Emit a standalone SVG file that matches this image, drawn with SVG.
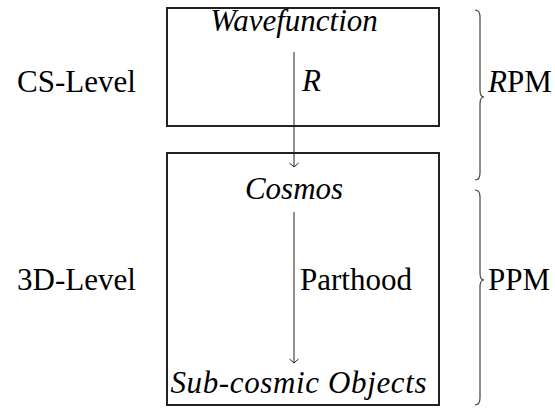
<svg xmlns="http://www.w3.org/2000/svg" width="555" height="410" viewBox="0 0 555 410">
<defs>
<style>
text{font-family:"Liberation Serif","DejaVu Serif","Noto Serif",serif;font-size:31px;fill:#000}
.it{font-style:italic}
.box{fill:none;stroke:#222;stroke-width:2}
.ln{fill:none;stroke:#222;stroke-width:1}
.br{fill:none;stroke:#444;stroke-width:1.2}
</style>
</defs>
<g id="connectors">
<line class="ln" x1="294" y1="52" x2="294" y2="167"/>
<path class="ln" d="M289.5 163 L294 167 L298.5 163"/>
<line class="ln" x1="294" y1="212" x2="294" y2="363"/>
<path class="ln" d="M289.5 359 L294 363 L298.5 359"/>
<text x="302" y="91" class="it">R</text>
<text x="300" y="290">Parthood</text>
</g>
<g id="wavefunction-box">
<rect class="box" x="167" y="8" width="272" height="118"/>
<text x="294" y="31" class="it" text-anchor="middle">Wavefunction</text>
</g>
<g id="cosmos-box">
<rect class="box" x="167" y="153" width="272" height="252"/>
<text x="294" y="199" class="it" text-anchor="middle">Cosmos</text>
<text x="298.5" y="393" class="it" text-anchor="middle" textLength="256" lengthAdjust="spacing">Sub-cosmic Objects</text>
</g>
<g id="cs-level"><text x="17" y="92">CS-Level</text></g>
<g id="3d-level"><text x="17" y="290">3D-Level</text></g>
<g id="rpm-brace">
<path class="br" d="M475 10 Q480 10 480 17 L480 90 Q480 97 484 97 Q480 97 480 104 L480 173 Q480 180 475 180"/>
<text x="488" y="92"><tspan class="it">R</tspan>PM</text>
</g>
<g id="ppm-brace">
<path class="br" d="M475 190 Q480 190 480 197 L480 273 Q480 280 484 280 Q480 280 480 287 L480 398 Q480 405 475 405"/>
<text x="488" y="290">PPM</text>
</g>
</svg>
